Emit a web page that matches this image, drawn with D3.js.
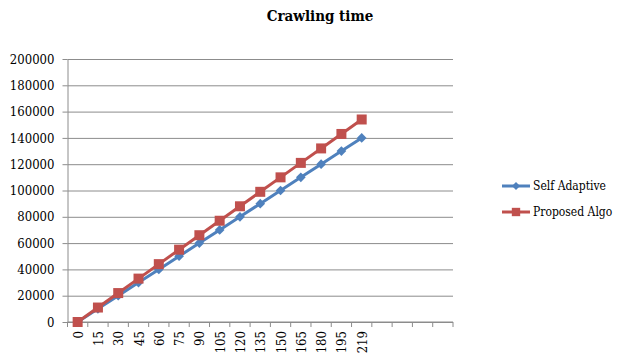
<!DOCTYPE html>
<html>
<head>
<meta charset="utf-8">
<script src="https://cdn.jsdelivr.net/npm/d3@7"></script>
<style>
  body { margin: 0; background: #fff; }
  svg text { font-family: "DejaVu Serif Condensed", "DejaVu Serif", serif; font-stretch: condensed; fill: #000; }
</style>
</head>
<body>
<div class="chart"></div>
<script>
// categories shown on the x axis (4 empty slots follow them)
const categories = ["0", "15", "30", "45", "60", "75", "90", "105", "120", "135", "150", "165", "180", "195", "219"];
const emptySlots = ["e1", "e2", "e3", "e4"];
const selfAdaptive = [0, 10000, 20000, 30000, 40000, 50000, 60000, 70000, 80000, 90000, 100000, 110000, 120000, 130000, 140000];
const proposedAlgo = [0, 11000, 22000, 33000, 44000, 55000, 66000, 77000, 88000, 99000, 110000, 121000, 132000, 143000, 154000];
const yTicks = [0, 20000, 40000, 60000, 80000, 100000, 120000, 140000, 160000, 180000, 200000];

const W = 618, H = 360;
const M = { left: 67.5, right: 453, top: 59, bottom: 322 };

const svg = d3.select(".chart").append("svg")
  .attr("width", W).attr("height", H);

// title
svg.append("text")
  .attr("x", 320).attr("y", 21)
  .attr("text-anchor", "middle")
  .attr("font-weight", "bold")
  .attr("font-size", 15)
  .text("Crawling time");

// scales
const xScale = d3.scaleBand()
  .domain(categories.concat(emptySlots))
  .range([M.left, M.right]);

const yScale = d3.scaleLinear()
  .domain([0, 200000])
  .range([M.bottom, M.top]);

// horizontal grid
svg.append("g")
  .attr("transform", `translate(${M.left}, 0)`)
  .call(d3.axisLeft(yScale).tickValues(yTicks).tickSize(-(M.right - M.left)).tickFormat(""))
  .call(g => g.select(".domain").remove())
  .call(g => g.selectAll("line").attr("stroke", "#8c8c8c").attr("stroke-width", 1));

// y axis
const yAxis = svg.append("g")
  .attr("transform", `translate(${M.left}, 0)`)
  .call(d3.axisLeft(yScale).tickValues(yTicks).tickSize(5).tickSizeOuter(0).tickPadding(8).tickFormat(d3.format("d")));
yAxis.select(".domain").attr("stroke", "#8c8c8c");
yAxis.selectAll("line").attr("stroke", "#8c8c8c");
yAxis.selectAll("text").attr("font-size", 13).attr("fill", "#000");

// x axis: ticks at category boundaries, labels at centres
const bounds = xScale.domain().map(d => xScale(d)).concat([M.right]);
const xAxis = svg.append("g");
xAxis.append("line")
  .attr("x1", M.left).attr("x2", M.right)
  .attr("y1", M.bottom).attr("y2", M.bottom)
  .attr("stroke", "#8c8c8c");
xAxis.selectAll(".xtick").data(bounds).join("line")
  .attr("class", "xtick")
  .attr("x1", d => d).attr("x2", d => d)
  .attr("y1", M.bottom).attr("y2", M.bottom + 5)
  .attr("stroke", "#8c8c8c");
xAxis.selectAll(".xlabel").data(categories).join("text")
  .attr("class", "xlabel")
  .attr("transform", d => `translate(${xScale(d) + xScale.bandwidth() / 2 + 5}, ${M.bottom + 9}) rotate(-90)`)
  .attr("text-anchor", "end")
  .attr("font-size", 13)
  .text(d => d);

// series
const series = [
  { name: "Self Adaptive", values: selfAdaptive, color: "#4f81bd", marker: d3.symbolDiamond2, size: 60 },
  { name: "Proposed Algo", values: proposedAlgo, color: "#c0504d", marker: d3.symbolSquare, size: 100 }
];

const line = d3.line()
  .x((d, i) => xScale(categories[i]) + xScale.bandwidth() / 2)
  .y(d => yScale(d));

series.forEach(s => {
  svg.append("path")
    .datum(s.values)
    .attr("fill", "none")
    .attr("stroke", s.color)
    .attr("stroke-width", 3)
    .attr("d", line);

  svg.selectAll(null).data(s.values).join("path")
    .attr("transform", (d, i) => `translate(${xScale(categories[i]) + xScale.bandwidth() / 2}, ${yScale(d)})`)
    .attr("d", d3.symbol(s.marker, s.size))
    .attr("fill", s.color);
});

// legend
const legend = svg.append("g");
series.forEach((s, i) => {
  const y = 186 + i * 26;
  legend.append("line")
    .attr("x1", 502).attr("x2", 530)
    .attr("y1", y).attr("y2", y)
    .attr("stroke", s.color).attr("stroke-width", 3);
  legend.append("path")
    .attr("transform", `translate(516, ${y})`)
    .attr("d", d3.symbol(s.marker, s.size * 0.7))
    .attr("fill", s.color);
  legend.append("text")
    .attr("x", 533).attr("y", y)
    .attr("dy", "0.35em")
    .attr("font-size", 12)
    .text(s.name);
});
</script>
</body>
</html>
